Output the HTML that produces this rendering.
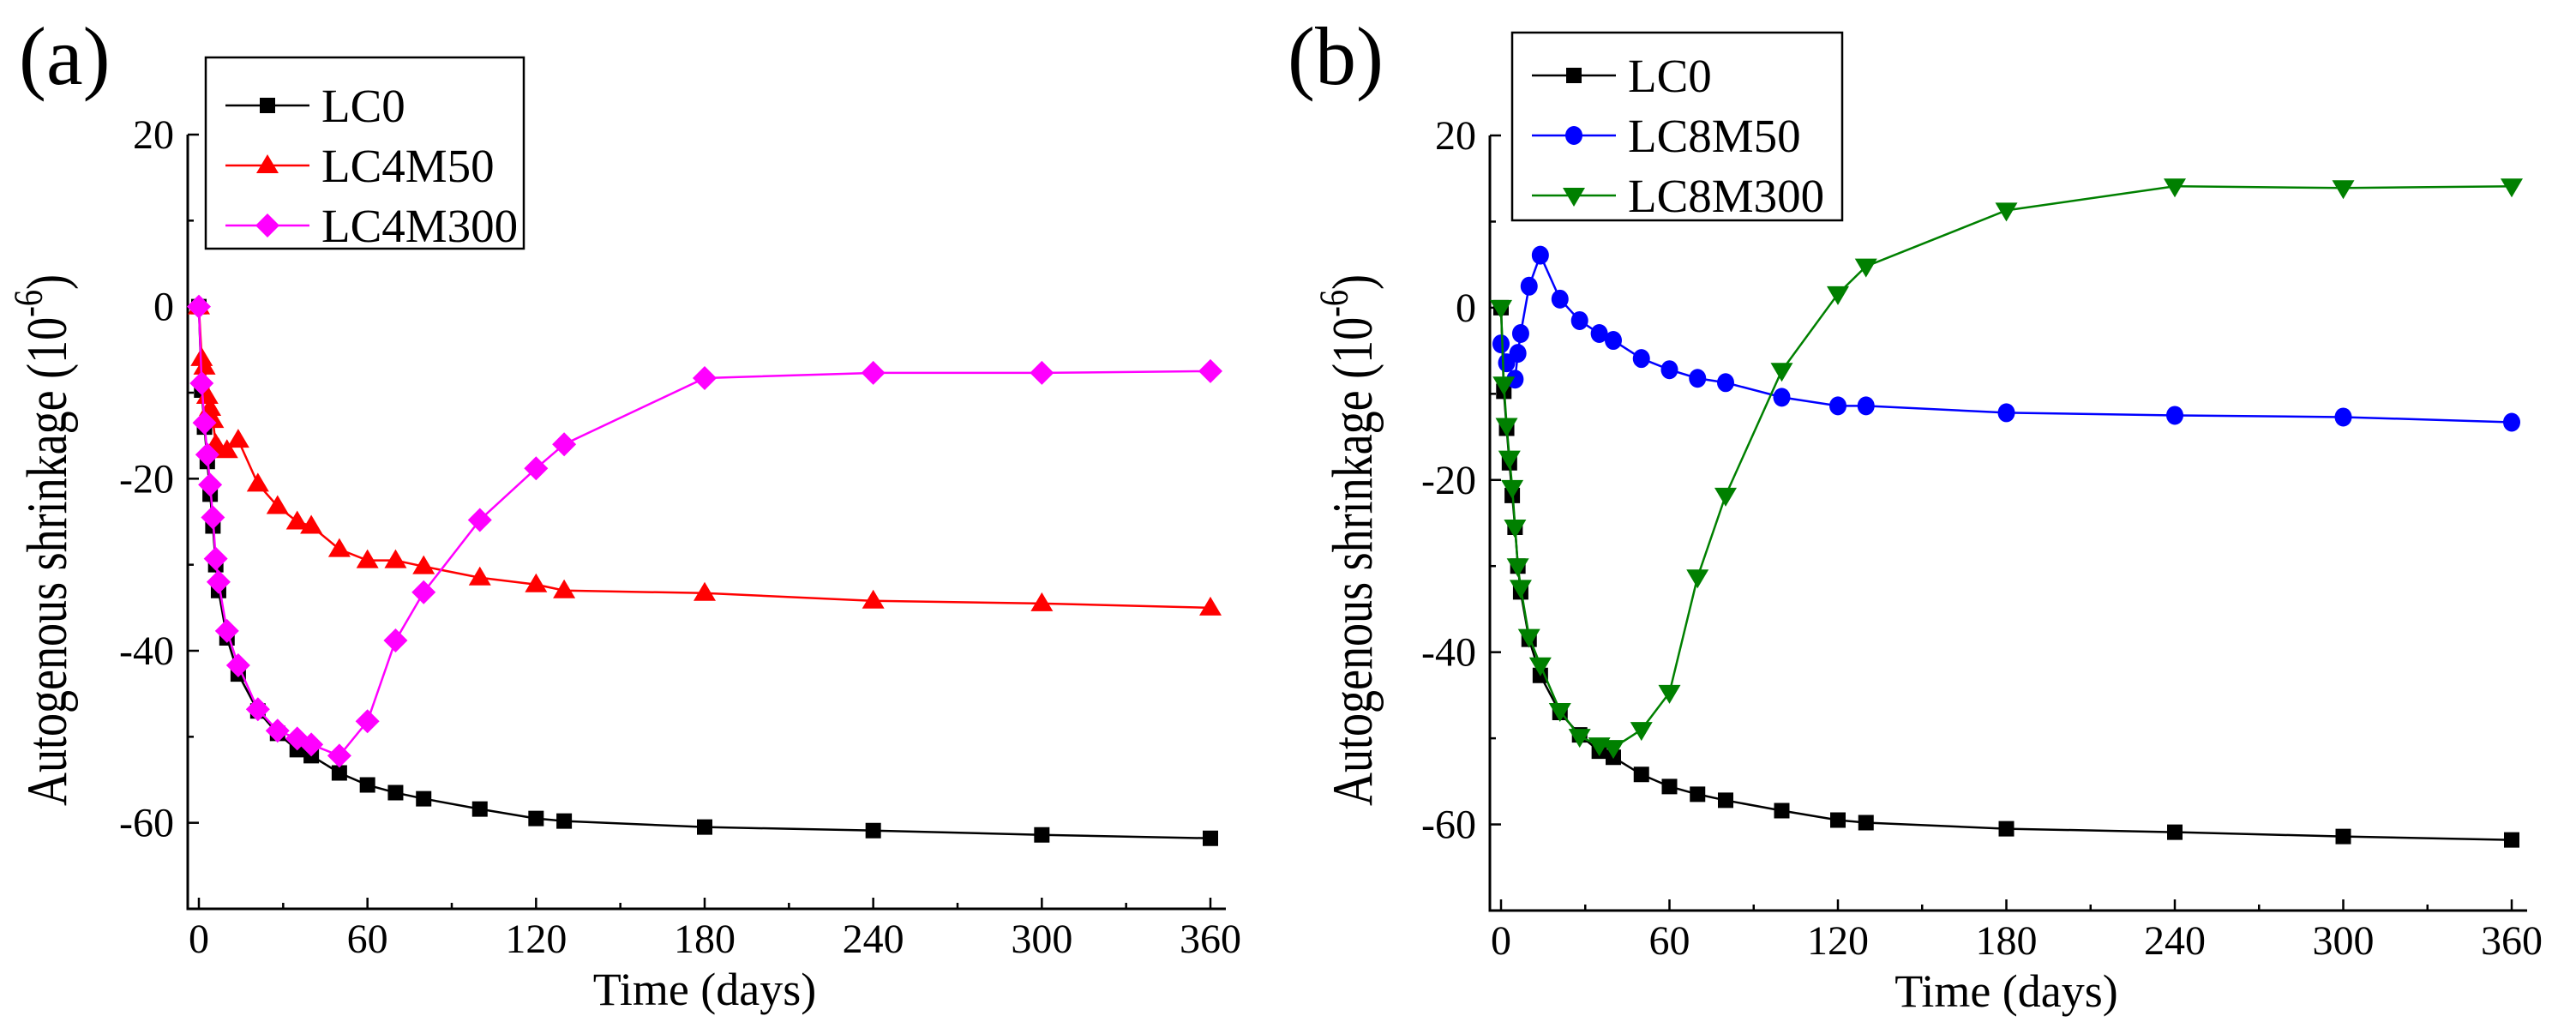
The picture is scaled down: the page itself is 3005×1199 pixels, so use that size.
<!DOCTYPE html>
<html><head><meta charset="utf-8">
<style>
html,body{margin:0;padding:0;background:#fff;}
svg{display:block;}
svg text{font-family:"Liberation Serif","Times New Roman",serif;}
</style></head>
<body>
<svg id="chart" width="3005" height="1199" viewBox="0 0 3005 1199" xmlns="http://www.w3.org/2000/svg" font-family="Liberation Serif, serif">
<rect x="0" y="0" width="3005" height="1199" fill="#ffffff"/>
</svg>
<script>
// ---- data ----
const xTicks = [0, 60, 120, 180, 240, 300, 360];
const yTicks = [20, 0, -20, -40, -60];
const tLC0 = [0,1,2,3,4,5,6,7,10,14,21,28,35,40,50,60,70,80,100,120,130,180,240,300,360];
const vLC0 = [0,-9.7,-14,-18,-21.8,-25.5,-30,-33,-38.5,-42.7,-47,-49.6,-51.5,-52.2,-54.2,-55.6,-56.5,-57.2,-58.4,-59.5,-59.8,-60.5,-60.9,-61.4,-61.8];
const tLC4M50 = [0,1,2,3,4,5,6,7,10,14,21,28,35,40,50,60,70,80,100,120,130,180,240,300,360];
const vLC4M50 = [0,-6,-7,-10.4,-11.8,-13.2,-16,-16.5,-16.7,-15.5,-20.6,-23.2,-25,-25.5,-28.2,-29.5,-29.5,-30.2,-31.5,-32.3,-33,-33.3,-34.2,-34.5,-35];
const tLC4M300 = [0,1,2,3,4,5,6,7,10,14,21,28,35,40,50,60,70,80,100,120,130,180,240,300,360];
const vLC4M300 = [0,-8.9,-13.5,-17.2,-20.7,-24.5,-29.3,-32,-37.7,-41.7,-46.8,-49.3,-50.2,-50.9,-52.2,-48.2,-38.8,-33.2,-24.8,-18.8,-16,-8.3,-7.7,-7.7,-7.5];
const tLC8M50 = [0,2,5,6,7,10,14,21,28,35,40,50,60,70,80,100,120,130,180,240,300,360];
const vLC8M50 = [-4.2,-6.4,-8.3,-5.3,-3.0,2.5,6.1,1.0,-1.5,-3.0,-3.8,-5.9,-7.2,-8.2,-8.7,-10.4,-11.4,-11.4,-12.2,-12.5,-12.7,-13.3];
const tLC8M300 = [0,1,2,3,4,5,6,7,10,14,21,28,35,40,50,60,70,80,100,120,130,180,240,300,360];
const vLC8M300 = [0,-8.9,-13.7,-17.5,-20.9,-25.5,-30,-32.5,-38.2,-41.5,-46.8,-49.8,-50.8,-51.1,-49,-44.7,-31.3,-21.8,-7.3,1.6,4.8,11.3,14.1,13.9,14.1];

const NS = 'http://www.w3.org/2000/svg';
const svg = document.getElementById('chart');
function mk(tag, attrs, parent){
  const e = document.createElementNS(NS, tag);
  for (const k in attrs) e.setAttribute(k, attrs[k]);
  (parent||svg).appendChild(e);
  return e;
}
const FF = 'Liberation Serif, Times New Roman, serif';

function markerPath(shape, cx, cy){
  if (shape==='square') return `M${cx-9},${cy-9}h18v18h-18z`;
  if (shape==='up') return `M${cx},${cy-13}L${cx+13},${cy+9}L${cx-13},${cy+9}z`;
  if (shape==='down') return `M${cx},${cy+13}L${cx+13},${cy-9}L${cx-13},${cy-9}z`;
  if (shape==='diamond') return `M${cx},${cy-14}L${cx+14},${cy}L${cx},${cy+14}L${cx-14},${cy}z`;
  return '';
}
function drawMarker(g, shape, cx, cy, color){
  if (shape==='circle'){
    const c = mk('ellipse',{cx:cx,cy:cy,rx:10,ry:11,fill:color},g);
    
    
  } else {
    const p = mk('path',{d:markerPath(shape,cx,cy),fill:color},g);
    
    
  }
}

function panel(cfg){
  const X = t => cfg.x0 + (t-0)*(cfg.x1-cfg.x0)/360;
  const Y = v => cfg.yBase - (v-(-70))*(cfg.yBase-cfg.yTop)/90;
  const g = mk('g',{'font-family':FF});
  
  
  const ax = mk('path',{d:`M${cfg.axX},${cfg.yTop}V${cfg.yBase}H${cfg.x1+18}`,stroke:'#000','stroke-width':3,fill:'none'},g);
  
  
  for (let t=0;t<=360;t+=30){
    const major = t%60===0;
    mk('line',{x1:X(t),x2:X(t),y1:cfg.yBase,y2:cfg.yBase-(major?13:7),stroke:'#000','stroke-width':2.5},g);
  }
  xTicks.forEach(t=>{
    const tx = mk('text',{x:X(t),y:cfg.yBase+51,'font-size':48,'text-anchor':'middle',fill:'#000','font-family':FF},g);
    tx.textContent = t;
    
    
  });
  for (let v=-70; v<=20; v+=10){
    const major = v%20===0;
    mk('line',{x1:cfg.axX,x2:cfg.axX+(major?13:7),y1:Y(v),y2:Y(v),stroke:'#000','stroke-width':2.5},g);
  }
  yTicks.forEach(v=>{
    const ty = mk('text',{x:cfg.axX-16,y:Y(v)+16,'font-size':48,'text-anchor':'end',fill:'#000','font-family':FF},g);
    ty.textContent = v;
    
    
  });
  const xt = mk('text',{x:(cfg.x0+cfg.x1)/2,y:cfg.yBase+112,'font-size':54,'text-anchor':'middle',fill:'#000','font-family':FF},g);
  xt.textContent = 'Time (days)';
  
  
  const yt = mk('text',{x:0,y:0,'font-size':48,'text-anchor':'middle',fill:'#000','font-family':FF,textLength:620,lengthAdjust:'spacingAndGlyphs',
    transform:`translate(${cfg.ytX+22},630) rotate(-90) scale(1,1.4)`},g);
  
  
  yt.appendChild(document.createTextNode('Autogenous shrinkage (10'));
  const sup = mk('tspan',{dy:-20,'font-size':34},yt);
  sup.textContent='-6';
  const cl = mk('tspan',{dy:20},yt);
  cl.textContent=')';
  const pl = mk('text',{x:cfg.labX,y:98,'font-size':96,fill:'#000','font-family':FF},g);
  pl.textContent = cfg.label;
  
  
  cfg.series.forEach(s=>{
    const sg = mk('g',{},g);
    
    
    const d = s.t.map((t,i)=>(i?'L':'M')+X(t)+','+Y(s.v[i])).join('');
    const ln = mk('path',{d:d,stroke:s.color,'stroke-width':2.5,fill:'none'},sg);
    
    
    s.t.forEach((t,i)=>drawMarker(sg,s.shape,X(t),Y(s.v[i]),s.color));
  });
  const lg = mk('g',{},g);
  
  
  const L = cfg.legend;
  mk('rect',{x:L.x,y:L.y,width:L.w,height:L.h,fill:'#fff',stroke:'#000','stroke-width':2.5},lg);
  cfg.series.forEach((s,i)=>{
    const cy = L.y+L.first+i*70;
    const eg = mk('g',{},lg);
    
    
    mk('line',{x1:L.x+23,x2:L.x+121,y1:cy,y2:cy,stroke:s.color,'stroke-width':2.5},eg);
    drawMarker(eg,s.shape,L.x+72,cy,s.color);
    const tx = mk('text',{x:L.x+135,y:cy+19,'font-size':55,fill:'#000','font-family':FF},eg);
    tx.textContent = s.name;
  });
}

panel({name:'panel-a', label:'(a)', labX:22, x0:232, x1:1412, axX:219, yTop:157, yBase:1060, ytX:55,
  legend:{x:240,y:67,w:371,h:223,first:56},
  series:[
    {name:'LC0',t:tLC0,v:vLC0,color:'#000000',shape:'square'},
    {name:'LC4M50',t:tLC4M50,v:vLC4M50,color:'#ff0000',shape:'up'},
    {name:'LC4M300',t:tLC4M300,v:vLC4M300,color:'#ff00ff',shape:'diamond'}
  ]});
panel({name:'panel-b', label:'(b)', labX:1502, x0:1751, x1:2930, axX:1738, yTop:158, yBase:1062, ytX:1578,
  legend:{x:1764,y:38,w:385,h:219,first:50},
  series:[
    {name:'LC0',t:tLC0,v:vLC0,color:'#000000',shape:'square'},
    {name:'LC8M50',t:tLC8M50,v:vLC8M50,color:'#0000ff',shape:'circle'},
    {name:'LC8M300',t:tLC8M300,v:vLC8M300,color:'#008000',shape:'down'}
  ]});
</script>
</body></html>
